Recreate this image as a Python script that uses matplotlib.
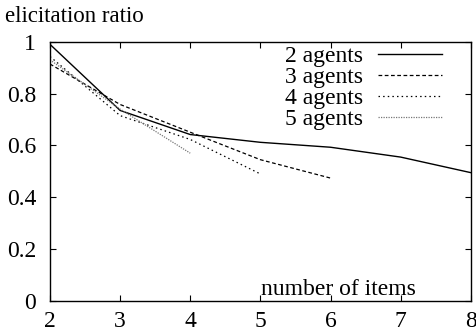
import matplotlib
matplotlib.use("Agg")
import matplotlib.pyplot as plt

plt.rcParams['font.family'] = ['Liberation Serif', 'DejaVu Serif']

# data
items_2 = [2, 3, 4, 5, 6, 7, 8]
ratio_2 = [0.99, 0.735, 0.642, 0.612, 0.593, 0.555, 0.495]
items_3 = [2, 3, 4, 5, 6]
ratio_3 = [0.914, 0.758, 0.651, 0.545, 0.474]
items_4 = [2, 3, 4, 5]
ratio_4 = [0.943, 0.715, 0.623, 0.49]
items_5 = [2, 3, 4]
ratio_5 = [0.93, 0.74, 0.57]

fig = plt.figure(figsize=(4.76, 3.34), dpi=100)
ax = fig.add_axes([0.105, 0.099, 0.884, 0.776])

ax.plot(items_2, ratio_2, color='black', lw=1.0, ls='-', label='2 agents')
ax.plot(items_3, ratio_3, color='black', lw=0.9, ls=(0, (3, 2)), label='3 agents')
ax.plot(items_4, ratio_4, color='black', lw=0.9, ls=(0, (1.2, 2.5)), label='4 agents')
ax.plot(items_5, ratio_5, color='#777777', lw=0.9, ls=(0, (1, 1)), label='5 agents')

ax.set_xlim(2, 8)
ax.set_ylim(0, 1)
ax.set_xticks(range(2, 9))
ax.set_yticks([0, 0.2, 0.4, 0.6, 0.8, 1])
ax.set_yticklabels(['0', '0.2', '0.4', '0.6', '0.8', '1'])
ax.tick_params(direction='in', top=True, right=True, length=4, width=0.8,
               labelsize=17)
ax.tick_params(axis='x', pad=7)
ax.tick_params(axis='y', pad=10)
for s in ax.spines.values():
    s.set_linewidth(1.0)

fig.text(0.01, 0.935, 'elicitation ratio', fontsize=16.5, va='baseline', ha='left')
ax.text(0.501, 0.023, 'number of items', fontsize=17, transform=ax.transAxes,
        va='baseline', ha='left')

ax.legend(loc='upper right', bbox_to_anchor=(0.931, 0.985), frameon=False,
          markerfirst=False, handlelength=2.7, handletextpad=0.63,
          labelspacing=-0.02, fontsize=17, borderaxespad=0, borderpad=0)

fig.savefig('out.png', dpi=100)
